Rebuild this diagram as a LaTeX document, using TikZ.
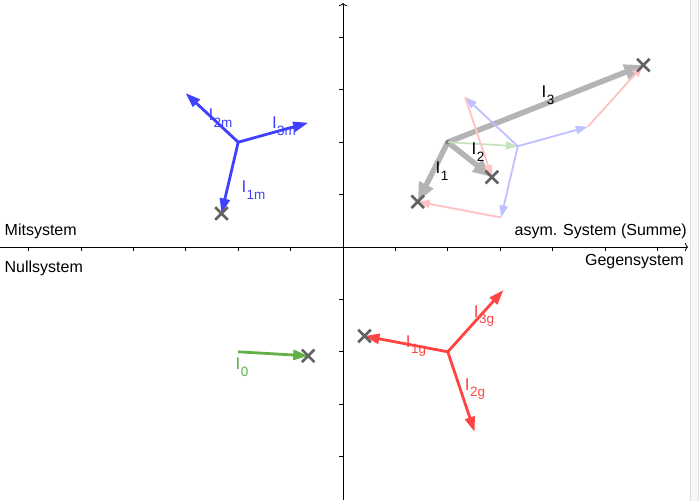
\documentclass[tikz,border=0pt]{standalone}
\usepackage{fontspec}
\setmainfont{Liberation Sans}
\usetikzlibrary{arrows.meta,calc,shapes.misc}
\definecolor{gbBlue}{HTML}{4040FF}
\definecolor{gbRed}{HTML}{FF4444}
\definecolor{gbGreen}{HTML}{62B048}
\definecolor{gbGray}{HTML}{B4B4B4}
\definecolor{xGray}{HTML}{626262}
\newcommand{\Isub}[1]{I\kern0.4pt\raisebox{-6.5pt}{\fontsize{13.5}{14}\selectfont #1}}
\begin{document}
\begin{tikzpicture}[x=52.4pt,y=52.4pt,
  axisline/.style={black, line width=0.8pt},
  vec/.style={line width=2.8pt, -{Triangle[length=15pt,width=10pt]}},
  sumvec/.style={gbGray, line width=5.5pt, -{Triangle[length=19pt,width=15pt]}},
  aux/.style={line width=1.8pt, -{Triangle[length=12pt,width=8pt]}},
  xmark/.style={cross out, draw=xGray, line width=2.6pt, minimum size=10pt, inner sep=0pt},
  vlabel/.style={font=\fontsize{17}{19}\selectfont, inner sep=0pt},
  syslabel/.style={font=\fontsize{16}{18}\selectfont, inner sep=0pt},
]
\useasboundingbox (-343pt,-253pt) rectangle (357pt,247pt);
\fill[white] (-343pt,-253pt) rectangle (357pt,247pt);
% right strip
\filldraw[fill=gray!6, draw=gray!25, line width=0.8pt] (347pt,-254pt) rectangle (355pt,248pt);

% axes
\coordinate (xl) at (-343pt,0);
\coordinate (xr) at (345pt,0);
\coordinate (yb) at (0,-253pt);
\coordinate (yt) at (0,244pt);
\draw[axisline,-{To[length=3pt,width=8pt]}] (xl) -- (xr);
\draw[axisline,-{To[length=3pt,width=8pt]}] (yb) -- (yt);
\foreach \i in {-6,...,-1,1,2,...,6} \draw[axisline] (\i,0) -- ++(0,-4pt);
\foreach \j in {-4,...,-1,1,2,...,4} \draw[axisline] (0,\j) -- ++(-4pt,0);

% system labels
\node[syslabel, anchor=base west] (lmit) at (-338.5pt,11pt) {Mitsystem};
\node[syslabel, anchor=base east] (lsum) at (344pt,11pt) {asym. System (Summe)};
\node[syslabel, anchor=base west] (lnull) at (-338.5pt,-26pt) {Nullsystem};
\node[syslabel, anchor=base east] (lgeg) at (341pt,-19pt) {Gegensystem};

% centres
\coordinate (M) at (-2,2);
\coordinate (G) at (2,-2);
\coordinate (N) at (-2,-2);
\coordinate (S) at (2,2);

% Mitsystem
\coordinate (M1) at ($(M)+(-103.2:1.397)$);
\coordinate (M2) at ($(M)+(137:1.375)$);
\coordinate (M3) at ($(M)+(15.5:1.386)$);
% Gegensystem
\coordinate (G1) at ($(G)+(169.3:1.618)$);
\coordinate (G2) at ($(G)+(-71.5:1.61)$);
\coordinate (G3) at ($(G)+(48:1.586)$);
% Nullsystem
\coordinate (N0) at ($(N)+(-3.3:1.338)$);
% Summe
\coordinate (S0) at ($(S)+(-3.3:1.338)$);
\coordinate (A1) at ($(S0)+(-103.2:1.397)$);
\coordinate (A2) at ($(S0)+(137:1.375)$);
\coordinate (A3) at ($(S0)+(15.5:1.386)$);
\coordinate (T1) at ($(A1)+(169.3:1.618)$);
\coordinate (T2) at ($(A2)+(-71.5:1.61)$);
\coordinate (T3) at ($(A3)+(48:1.586)$);

% Mit vectors
\draw[vec, gbBlue] (M) -- (M1);
\draw[vec, gbBlue] (M) -- (M2);
\draw[vec, gbBlue] (M) -- (M3);
% Gegen vectors
\draw[vec, gbRed] (G) -- (G1);
\draw[vec, gbRed] (G) -- (G2);
\draw[vec, gbRed] (G) -- (G3);
% Null vector
\draw[vec, gbGreen] (N) -- (N0);

% sum vectors
\draw[sumvec] (S) -- (T1);
\draw[sumvec] (S) -- (T2);
\draw[sumvec] (S) -- (T3);
\fill[xGray!85] (S) circle (2.4pt);

% construction
\draw[aux, gbGreen!35] (S) -- (S0);
\draw[aux, gbBlue!33] (S0) -- (A1);
\draw[aux, gbBlue!33] (S0) -- (A2);
\draw[aux, gbBlue!33] (S0) -- (A3);
\draw[aux, gbRed!33] (A1) -- (T1);
\draw[aux, gbRed!33] (A2) -- (T2);
\draw[aux, gbRed!33] (A3) -- (T3);

% markers
\node[xmark] (xm1) at (M1) {};
\node[xmark] (xg1) at (G1) {};
\node[xmark] (xn0) at (N0) {};
\node[xmark] (xt1) at (T1) {};
\node[xmark] (xt2) at (T2) {};
\node[xmark] (xt3) at (T3) {};

% vector labels
\node[vlabel, gbBlue] (l2m) at (-122.5pt,129pt) {\Isub{2m}};
\node[vlabel, gbBlue] (l3m) at (-59pt,121pt) {\Isub{3m}};
\node[vlabel, gbBlue] (l1m) at (-89.5pt,57pt) {\Isub{1m}};
\node[vlabel, gbRed] (l1g) at (73pt,-99pt) {\Isub{1g}};
\node[vlabel, gbRed] (l3g) at (141pt,-69pt) {\Isub{3g}};
\node[vlabel, gbRed] (l2g) at (132pt,-142pt) {\Isub{2g}};
\node[vlabel, gbGreen] (l0) at (-101pt,-120pt) {\Isub{0}};
\node[vlabel] (l1) at (99pt,76pt) {\Isub{1}};
\node[vlabel] (l2) at (135pt,95pt) {\Isub{2}};
\node[vlabel] (l3) at (205pt,152pt) {\Isub{3}};
\end{tikzpicture}
\end{document}
